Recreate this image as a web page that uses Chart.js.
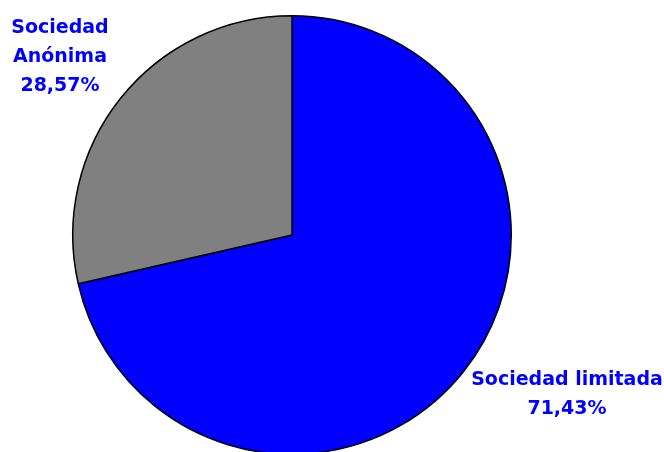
<!DOCTYPE html>
<html>
<head>
<meta charset="utf-8">
<script src="https://cdn.jsdelivr.net/npm/chart.js@4/dist/chart.umd.min.js"></script>
<style>
  html, body { margin: 0; padding: 0; background: #fff; overflow: hidden; }
  #wrap { position: relative; width: 664px; height: 470px; }
</style>
</head>
<body>
<div id="wrap"><canvas id="pieChart"></canvas></div>
<script>
// data
const categories = ['Sociedad limitada', 'Sociedad Anónima'];
const shares = [71.43, 28.57];
const sliceColors = ['#0000ff', '#808080'];

// where each label's text block is centred (text only, not marks)
const labelSpots = [
  { x: 567, y: 395, lines: ['Sociedad limitada'] },
  { x: 60, y: 57, lines: ['Sociedad', 'Anónima'] }
];

const fmt = v => v.toFixed(2).replace('.', ',') + '%';

const outsideLabels = {
  id: 'outsideLabels',
  afterDraw(chart) {
    const ctx = chart.ctx;
    ctx.save();
    ctx.fillStyle = '#0000ff';
    ctx.font = 'bold 19px "DejaVu Sans", Verdana, sans-serif';
    ctx.textAlign = 'center';
    ctx.textBaseline = 'middle';
    const lh = 29;
    chart.data.datasets[0].data.forEach((v, i) => {
      const spot = labelSpots[i];
      const lines = spot.lines.concat([fmt(v)]);
      const top = spot.y - (lines.length - 1) * lh / 2;
      lines.forEach((t, k) => ctx.fillText(t, spot.x, top + k * lh));
    });
    ctx.restore();
  }
};

new Chart(document.getElementById('pieChart'), {
  type: 'pie',
  data: {
    labels: categories,
    datasets: [{
      data: shares,
      backgroundColor: sliceColors,
      borderColor: '#000',
      borderWidth: 1.5
    }]
  },
  options: {
    responsive: true,
    maintainAspectRatio: false,
    animation: false,
    layout: { padding: { left: 72, right: 152, top: 15, bottom: 15 } },
    plugins: {
      legend: { display: false },
      tooltip: { enabled: false }
    }
  },
  plugins: [outsideLabels]
});
</script>
</body>
</html>
